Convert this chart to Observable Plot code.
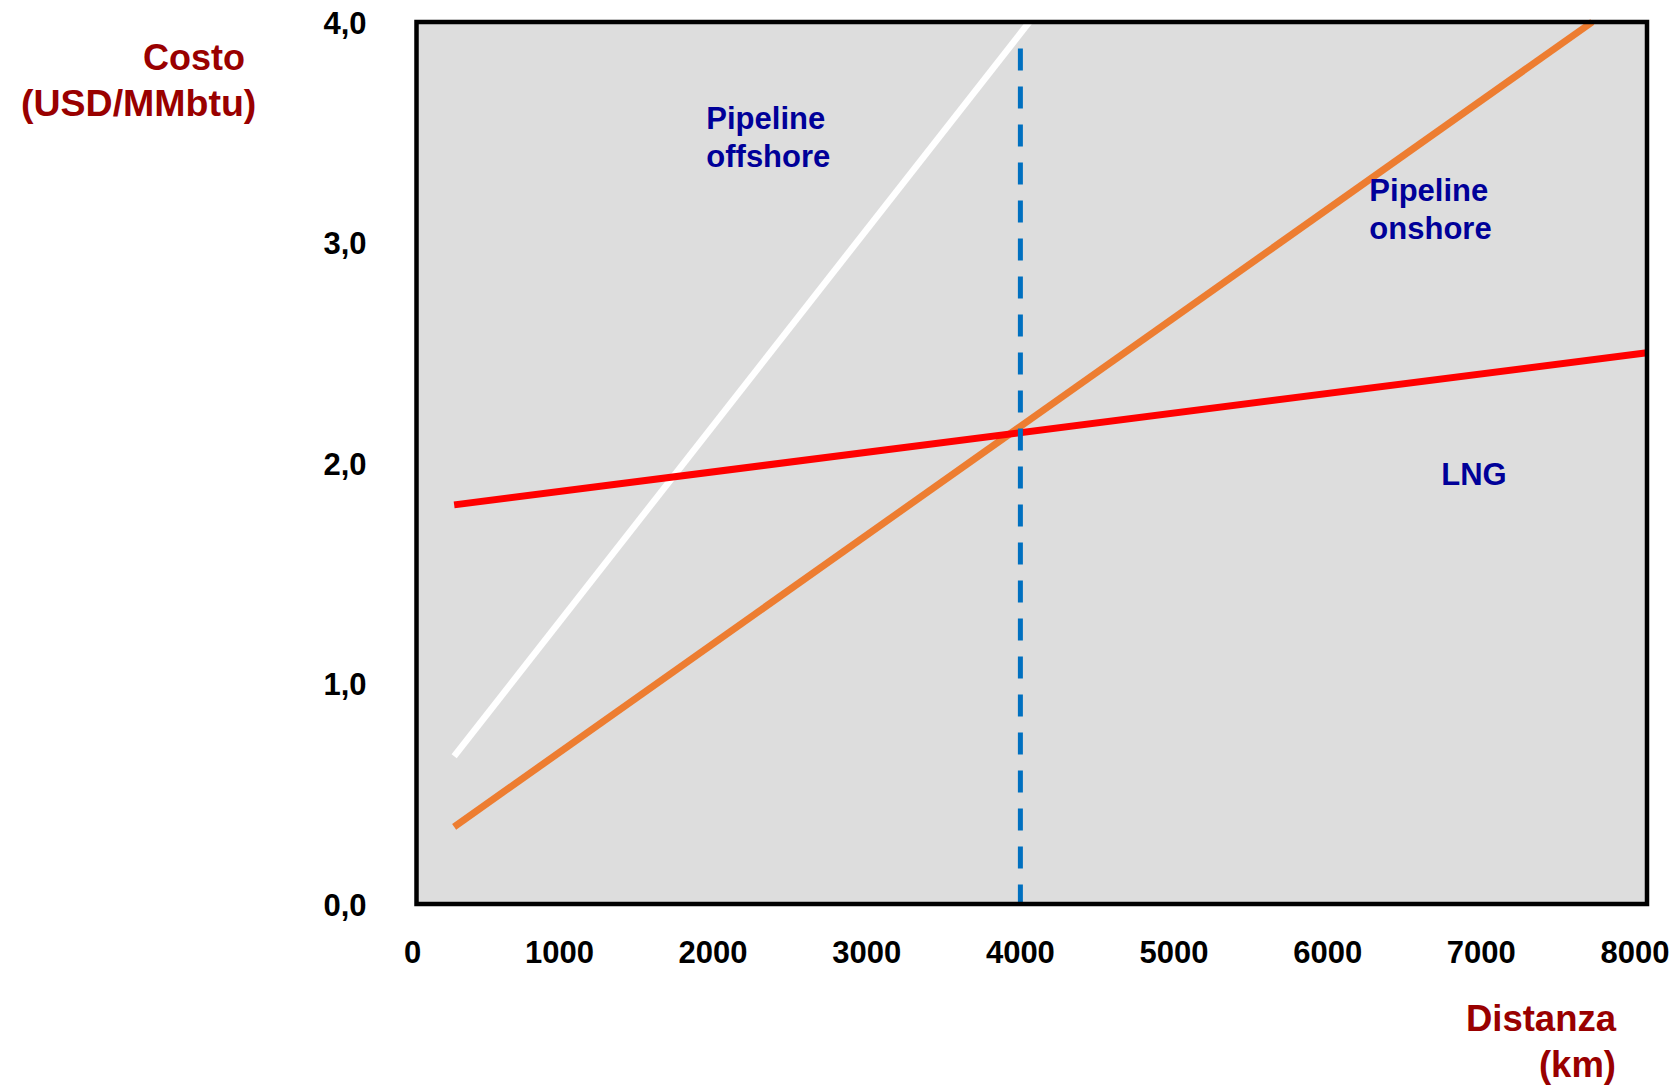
<!DOCTYPE html>
<html>
<head>
<meta charset="utf-8">
<script src="https://cdn.jsdelivr.net/npm/d3@7"></script>
<script src="https://cdn.jsdelivr.net/npm/@observablehq/plot@0.6"></script>
<style>
  html, body { margin: 0; padding: 0; background: #fff; }
  svg text { font-family: "Liberation Sans", Arial, sans-serif; }
</style>
</head>
<body>
<div id="chart"></div>
<script>
// Series: [distance km, cost USD/MMbtu]
const offshore = [[315, 0.67], [4058, 4.0]];
const onshore  = [[315, 0.35], [7722, 4.0]];
const lng      = [[315, 1.81], [8078, 2.50]];
const breakEven = [[4000, 3.88], [4000, 0]];

const xTicks = [1000, 2000, 3000, 4000, 5000, 6000, 7000, 8000];
const xTickZero = [0];
const yTicks = [0, 1, 2, 3, 4];

const labelTexts = ["Pipeline\noffshore", "Pipeline\nonshore", "LNG"];
const labelX = [1956, 6271, 6739];
const labelY = [3.485, 3.159, 1.957];

const labels = labelTexts.map((t, i) => ({text: t, x: labelX[i], y: labelY[i]}));
const toObj = arr => arr.map(([x, y]) => ({x, y}));

const axisStyle = {tickSize: 0, fontSize: 31, fontWeight: "bold", fill: "#000", label: null};

const chart = Plot.plot({
  width: 1678,
  height: 1088,
  marginLeft: 416,
  marginRight: 31.5,
  marginTop: 21.5,
  marginBottom: 184.5,
  style: {fontFamily: "Liberation Sans, Arial, sans-serif", background: "#fff", overflow: "visible"},
  x: {domain: [70, 8078]},
  y: {domain: [0, 4]},
  marks: [
    Plot.frame({fill: "#DDDDDD"}),
    Plot.line(toObj(offshore), {x: "x", y: "y", stroke: "#FFFFFF", strokeWidth: 6.5, strokeLinecap: "butt"}),
    Plot.line(toObj(onshore), {x: "x", y: "y", stroke: "#ED7D31", strokeWidth: 7, strokeLinecap: "butt"}),
    Plot.line(toObj(lng), {x: "x", y: "y", stroke: "#FF0000", strokeWidth: 7, strokeLinecap: "butt"}),
    Plot.line(toObj(breakEven), {x: "x", y: "y", stroke: "#0070C0", strokeWidth: 5, strokeDasharray: "22,16", strokeLinecap: "butt"}),
    Plot.text(labels, {x: "x", y: "y", text: "text", textAnchor: "start", lineAnchor: "middle", lineHeight: 1.226,
      fill: "#000099", fontSize: 31, fontWeight: "bold"}),
    Plot.frame({stroke: "#000", strokeWidth: 4.5}),
    Plot.axisX({...axisStyle, ticks: xTicks, tickPadding: 37, tickFormat: d => String(d)}),
    Plot.axisX({...axisStyle, ticks: xTickZero, tickPadding: 37, dx: 7, tickFormat: d => String(d)}),
    Plot.axisY({...axisStyle, ticks: yTicks, tickPadding: 50, dy: 2,
      tickFormat: d => d.toFixed(1).replace(".", ",")})
  ]
});

document.getElementById("chart").appendChild(chart);

// Axis titles
const svg = d3.select(chart);
const titleColor = "#990000";
const titles = [
  {t: "Costo", x: 143, y: 70, anchor: "start", size: 36},
  {t: "(USD/MMbtu)", x: 21, y: 116, anchor: "start", size: 37.5},
  {t: "Distanza", x: 1616, y: 1031, anchor: "end", size: 36.5},
  {t: "(km)", x: 1616, y: 1077, anchor: "end", size: 36.5}
];
titles.forEach(d => {
  svg.append("text")
    .attr("x", d.x).attr("y", d.y)
    .attr("text-anchor", d.anchor)
    .attr("fill", titleColor)
    .attr("font-size", d.size)
    .attr("font-weight", "bold")
    .attr("font-family", "Liberation Sans, Arial, sans-serif")
    .text(d.t);
});
</script>
</body>
</html>
